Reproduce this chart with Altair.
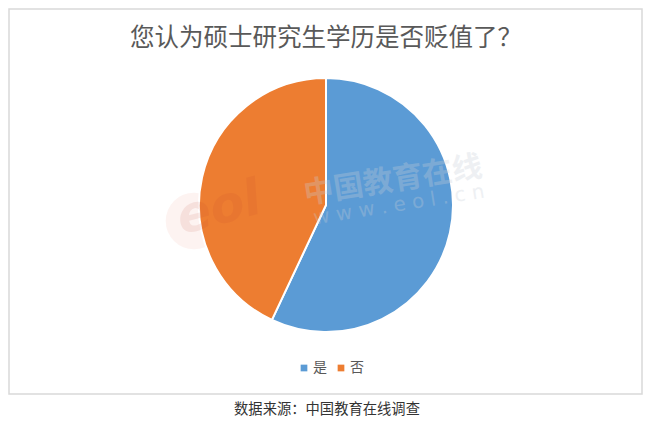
import altair as alt
import pandas as pd

# data
categories = ["是", "否"]
values = [57, 43]
colors = ["#5B9BD5", "#ED7D31"]
title_text = "您认为硕士研究生学历是否贬值了？"
footer_text = "数据来源：中国教育在线调查"
watermark_cn = "中国教育在线"
watermark_url = "w w w . e o l . c n"
watermark_logo = "eol"

df = pd.DataFrame({"cat": categories, "val": values, "ord": list(range(len(categories)))})

W, H = 633, 385
CJK = "Noto Sans CJK SC"

pie = alt.Chart(df).mark_arc(outerRadius=127, stroke="white", strokeWidth=2).encode(
    theta=alt.Theta("val:Q", stack=True),
    color=alt.Color(
        "cat:N",
        scale=alt.Scale(domain=categories, range=colors),
        sort=categories,
        legend=alt.Legend(
            title=None,
            orient="none",
            direction="horizontal",
            legendX=288,
            legendY=352,
            symbolType="square",
            symbolSize=45,
            symbolStrokeWidth=0,
            labelFontSize=14,
            labelFont=CJK,
            labelColor="#595959",
            labelOffset=2,
            columnPadding=7,
            symbolOffset=0,
            padding=0,
        ),
    ),
    order=alt.Order("ord:Q"),
    x=alt.value(317),
    y=alt.value(196),
)

blob = alt.Chart(pd.DataFrame({"t": [watermark_logo]})).mark_point(
    shape="circle", filled=True, color="#e86050", opacity=0.08, size=3200, strokeWidth=0,
).encode(x=alt.value(185), y=alt.value(212))

wm_logo = alt.Chart(pd.DataFrame({"t": [watermark_logo]})).mark_text(
    font="DejaVu Sans", fontSize=50, fontWeight="bold", fontStyle="italic", color="#c04030",
    opacity=0.1, angle=345, align="center", baseline="middle",
).encode(text="t:N", x=alt.value(210), y=alt.value(200))

wm_cn = alt.Chart(pd.DataFrame({"t": [watermark_cn]})).mark_text(
    font=CJK, fontSize=30, fontWeight="bold", color="#c8cfd8", opacity=0.3, angle=351,
    align="center", baseline="middle",
).encode(text="t:N", x=alt.value(384), y=alt.value(172))

wm_url = alt.Chart(pd.DataFrame({"t": [watermark_url]})).mark_text(
    font="DejaVu Sans", fontSize=20, color="#c8cfd8", opacity=0.3, angle=351,
    align="center", baseline="middle",
).encode(text="t:N", x=alt.value(390), y=alt.value(196))

title = alt.Chart(pd.DataFrame({"t": [title_text]})).mark_text(
    font=CJK, fontSize=24.5, color="#595959", align="center", baseline="middle",
).encode(text="t:N", x=alt.value(317), y=alt.value(30))

footer = alt.Chart(pd.DataFrame({"t": [footer_text]})).mark_text(
    font=CJK, fontSize=14.3, color="#333333", align="center", baseline="middle",
).encode(text="t:N", x=alt.value(318), y=alt.value(401))

chart = alt.layer(blob, pie, wm_logo, wm_cn, wm_url, title, footer).properties(
    width=W,
    height=H,
    padding={"left": 1, "top": 1, "right": 10, "bottom": 30},
    autosize=alt.AutoSizeParams(type="none"),
    background="white",
).configure_view(stroke="#d9d9d9", strokeWidth=1.5)

chart.save("out.html", embed_options={"renderer": "svg", "actions": False})
